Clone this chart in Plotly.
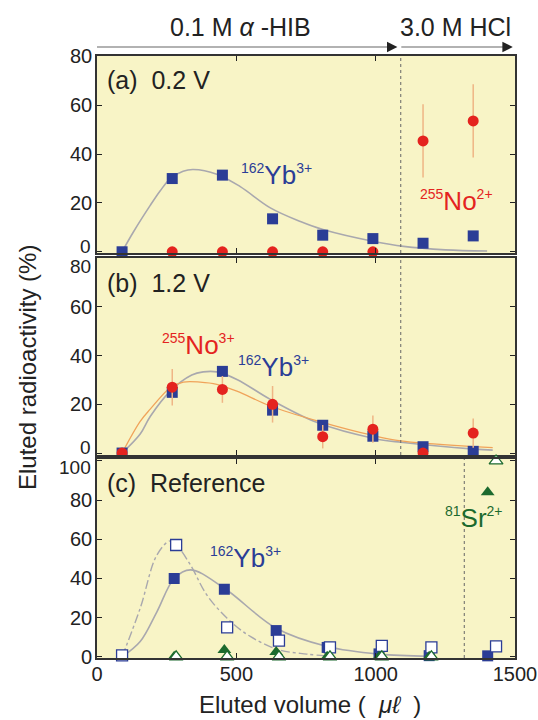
import plotly.graph_objects as go

# ---------------- data ----------------
# Panel (a) 0.2 V
a_x = [90, 270, 450, 630, 810, 990, 1170, 1350]
a_yb = [0, 30, 31.4, 13.5, 6.8, 5.4, 3.5, 6.5]
a_no_x = [270, 450, 630, 810, 990, 1170, 1350]
a_no = [0, 0, 0, 0, 0, 45.4, 53.6]
a_no_err = [0, 0, 0, 0, 0, 15, 15]
a_fit_x = [90, 130, 191, 227, 263, 309, 345, 430, 514, 622, 730, 814, 994, 1100, 1250, 1400]
a_fit_y = [0, 8, 19, 25, 30, 33, 33.7, 31.8, 26.7, 18, 12.4, 9, 4.2, 2.2, 0.8, 0.3]

# Panel (b) 1.2 V
b_x = [90, 270, 450, 630, 810, 990, 1170, 1350]
b_yb = [0, 24.9, 33.5, 17.6, 11.4, 6.9, 2.6, 0.7]
b_no = [0, 27, 26.1, 20, 6.7, 9.8, 0, 8.2]
b_no_err = [0, 7.5, 5.5, 7.5, 4.8, 5.6, 0, 6]
b_fit_yb_x = [90, 155, 191, 263, 340, 381, 430, 502, 622, 790, 994, 1090, 1354, 1420]
b_fit_yb_y = [0, 7.8, 15, 25.4, 32, 33.3, 33.3, 30.2, 22, 12.5, 6, 4.4, 1.6, 1.2]
b_fit_no_x = [90, 155, 191, 263, 310, 370, 430, 502, 622, 790, 994, 1090, 1354, 1420]
b_fit_no_y = [0, 13, 18, 26.8, 29.1, 29.1, 28.2, 25.4, 19.3, 13.2, 7.1, 5, 2.6, 2.2]

# Panel (c) Reference
c_fx = [277, 457, 643, 826, 1012, 1192, 1402]
c_fyb = [40, 34.5, 13.4, 4.8, 1.5, 0.6, 0.5]
c_ox = [90, 284, 467, 653, 836, 1022, 1200, 1432]
c_oyb = [0.7, 57.1, 15, 8.3, 4.8, 5.6, 4.8, 5.3]
c_fsr = [0, 3.5, 2.5, 0, 0, 0, 84]
c_otri_x = [284, 467, 653, 836, 1022, 1200, 1432]
c_osr = [0, 0, 0, 0, 0, 0, 100]
c_fit_f_x = [90, 155, 215, 277, 335, 457, 643, 826, 1012, 1192]
c_fit_f_y = [0, 7.8, 23, 40, 44.4, 35, 14.6, 5.3, 1.4, 0.3]
c_fit_o_x = [90, 155, 215, 262, 284, 335, 394, 467, 550, 653, 753, 836]
c_fit_o_y = [0, 24.8, 52, 59.2, 57.3, 47, 31.6, 19.7, 10.4, 3.6, 1.4, 0.3]

x_ticks = [0, 500, 1000, 1500]
y_ticks_ab = [0, 20, 40, 60, 80]
y_ticks_c = [0, 20, 40, 60, 80, 100]
# tick labels that sit at the junction of two panels are drawn separately (nudged apart)
y_text_a = ["", "20", "40", "60", "80"]
y_text_b = ["", "20", "40", "60", ""]
y_text_c = ["0", "20", "40", "60", "80", ""]
boundary_ab = 1090
boundary_c = 1318

# ---------------- styles ----------------
FONT = "Liberation Sans, Arial, sans-serif"
BLUE = "#2B3D96"
RED = "#E4231F"
ERR = "#EFB585"
GREY = "#A9A8AE"
ORANGE = "#F0A35A"
GREEN = "#1C6A2E"
BG = "#F8F4C6"
TXT = "#222"

W, H = 538, 720

def px(x):
    return x / W

def py(y):
    return 1 - y / H

xdom = [px(97), px(515)]
def ydom(top, bot):
    return [py(bot), py(top)]

fig = go.Figure()

def add(trace, n):
    ax = "" if n == 1 else str(n)
    trace.update(xaxis="x" + ax, yaxis="y" + ax, showlegend=False, cliponaxis=False)
    fig.add_trace(trace)

MS = 11
# Panel a
add(go.Scatter(x=a_fit_x, y=a_fit_y, mode="lines", line=dict(color=GREY, width=1.6, shape="spline", smoothing=1.0)), 1)
add(go.Scatter(x=a_x, y=a_yb, mode="markers", marker=dict(symbol="square", size=MS, color=BLUE)), 1)
add(go.Scatter(x=a_no_x, y=a_no, mode="markers", marker=dict(symbol="circle", size=MS, color=RED),
               error_y=dict(type="data", array=a_no_err, color=ERR, thickness=1.5, width=0)), 1)

# Panel b
add(go.Scatter(x=b_fit_yb_x, y=b_fit_yb_y, mode="lines", line=dict(color=GREY, width=1.6, shape="spline", smoothing=1.0)), 2)
add(go.Scatter(x=b_fit_no_x, y=b_fit_no_y, mode="lines", line=dict(color=ORANGE, width=1.3, shape="spline", smoothing=1.0)), 2)
add(go.Scatter(x=b_x, y=b_yb, mode="markers", marker=dict(symbol="square", size=MS, color=BLUE)), 2)
add(go.Scatter(x=b_x, y=b_no, mode="markers", marker=dict(symbol="circle", size=MS, color=RED),
               error_y=dict(type="data", array=b_no_err, color=ERR, thickness=1.5, width=0)), 2)

# Panel c
add(go.Scatter(x=c_fit_f_x, y=c_fit_f_y, mode="lines", line=dict(color=GREY, width=1.6, shape="spline", smoothing=1.0)), 3)
add(go.Scatter(x=c_fit_o_x, y=c_fit_o_y, mode="lines", line=dict(color=GREY, width=1.4, dash="dashdot", shape="spline", smoothing=1.0)), 3)
add(go.Scatter(x=c_fx, y=c_fyb, mode="markers", marker=dict(symbol="square", size=MS, color=BLUE)), 3)
add(go.Scatter(x=c_ox, y=c_oyb, mode="markers", marker=dict(symbol="square", size=MS, color="white", line=dict(color=BLUE, width=1.3))), 3)
add(go.Scatter(x=c_fx, y=c_fsr, mode="markers", marker=dict(symbol="triangle-up", size=12, color=GREEN)), 3)
add(go.Scatter(x=c_otri_x, y=c_osr, mode="markers", marker=dict(symbol="triangle-up", size=12, color="white", line=dict(color=GREEN, width=1.3))), 3)

# ---------------- axes ----------------
axis_common = dict(showline=True, linewidth=1.6, linecolor="#333", mirror="ticks",
                   ticks="inside", ticklen=5, tickwidth=1.3, tickcolor=TXT, automargin=False,
                   showgrid=False, zeroline=False, tickfont=dict(family=FONT, size=20, color=TXT))

doms = [ydom(56, 253), ydom(258, 455), ydom(459, 658)]
yranges = [[-0.5, 80.2], [-0.8, 80], [-0.6, 101]]
yticks = [y_ticks_ab, y_ticks_ab, y_ticks_c]
ytexts = [y_text_a, y_text_b, y_text_c]
layout = {}
for i in range(3):
    n = "" if i == 0 else str(i + 1)
    layout["xaxis" + n] = dict(axis_common, domain=xdom, range=[0, 1500], anchor="y" + n,
                               tickvals=x_ticks, showticklabels=(i == 2), ticklabelstandoff=-3)
    layout["yaxis" + n] = dict(axis_common, domain=doms[i], range=yranges[i], anchor="x" + n,
                               tickvals=yticks[i], ticktext=ytexts[i], ticklabelstandoff=-1)

# vertical dotted lines
shapes = []
for i, xb in enumerate([boundary_ab, boundary_ab, boundary_c]):
    n = "" if i == 0 else str(i + 1)
    shapes.append(dict(type="line", xref="x" + n, yref="y" + n + " domain", x0=xb, x1=xb, y0=0, y1=1,
                       line=dict(color="#666", width=1, dash="dot")))

# top arrows (lines)
arrow_y = py(47)
shapes.append(dict(type="line", xref="x", yref="paper", x0=0, x1=1070, y0=arrow_y, y1=arrow_y,
                   line=dict(color="#999", width=1.3)))
shapes.append(dict(type="line", xref="x", yref="paper", x0=1092, x1=1480, y0=arrow_y, y1=arrow_y,
                   line=dict(color="#999", width=1.3)))

def iso(mass, sym, charge):
    return ('<sup><span style="font-size:14px">%s</span></sup>%s<sup><span style="font-size:14px">%s</span></sup>'
            % (mass, sym, charge))

ann = []
def txt(text, x, y, n, size=25, color=TXT, xanchor="left"):
    ax = "" if n == 1 else str(n)
    ann.append(dict(text=text, x=x, y=y, xref="x" + ax, yref="y" + ax, showarrow=False,
                    xanchor=xanchor, yanchor="middle", font=dict(family=FONT, size=size, color=color)))

ION = 26
txt("(a)  0.2 V", 28, 70.2, 1)
txt(iso("162", "Yb", "3+"), 508, 31.4, 1, size=ION, color=BLUE)
txt(iso("255", "No", "2+"), 1152, 21, 1, size=ION, color=RED)
txt("(b)  1.2 V", 28, 69.8, 2)
txt(iso("255", "No", "3+"), 225, 44.5, 2, size=ION, color=RED)
txt(iso("162", "Yb", "3+"), 500, 35.5, 2, size=ION, color=BLUE)
txt("(c)  Reference", 28, 88.8, 3)
txt(iso("162", "Yb", "3+"), 400, 50.5, 3, size=ION, color=BLUE)
txt(iso("81", "Sr", "2+"), 1242, 70.9, 3, size=ION, color=GREEN)

# arrow heads
for xh in [1078, 1492]:
    ann.append(dict(text="", x=xh, y=arrow_y, xref="x", yref="paper", showarrow=True,
                    ax=-9, ay=0, axref="pixel", ayref="pixel", arrowhead=2, arrowsize=1.3,
                    arrowwidth=1.6, arrowcolor=TXT))

def ptxt(text, x, y, size, angle=0, xanchor="center"):
    ann.append(dict(text=text, x=px(x), y=py(y), xref="paper", yref="paper", showarrow=False,
                    xanchor=xanchor, yanchor="middle", textangle=angle,
                    font=dict(family=FONT, size=size, color=TXT)))

# junction tick labels, nudged apart as in the original
ptxt("0", 93, 246, 19, xanchor="right")
ptxt("80", 93, 266, 19, xanchor="right")
ptxt("0", 93, 447, 19, xanchor="right")
ptxt("100", 93, 467, 19, xanchor="right")

# top labels
ptxt("0.1 M <i>α</i> -HIB", 240, 27, 25)
ptxt("3.0 M HCl", 455, 27, 25)
# axis titles
ptxt("Eluted radioactivity (%)", 27, 368, 24, angle=-90)
ptxt("Eluted volume (  <i>μℓ</i>  )", 310, 704, 24)

fig.update_layout(width=W, height=H, margin=dict(l=0, r=0, t=0, b=0, autoexpand=False),
                  paper_bgcolor="white", plot_bgcolor=BG, shapes=shapes, annotations=ann,
                  font=dict(family=FONT), **layout)

# place the fixed-size figure flush with the window (no page margin, no scrollbars)
fig.write_html("out.html", config={"displayModeBar": False},
               post_script="document.body.style.margin='0';document.body.style.overflow='hidden';")
